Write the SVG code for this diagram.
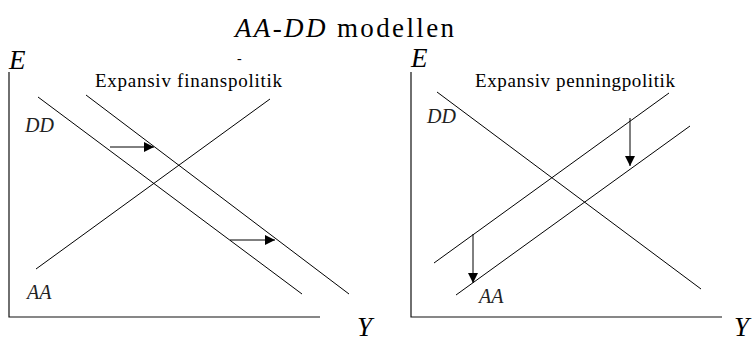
<svg xmlns="http://www.w3.org/2000/svg" width="755" height="342" viewBox="0 0 755 342">
<style>
.ln{stroke:#000;stroke-width:1;fill:none}
.ax{stroke:#111;stroke-width:1.2;fill:none}
.arr{stroke:#000;stroke-width:1;fill:none;marker-end:url(#ah)}
.t{font-family:"Liberation Serif","Times New Roman",serif;fill:#000}
.it{font-style:italic}
.big{font-size:27px}
.lab{font-size:20px;fill:#222}
.pol{font-size:19px}
</style>
<defs>
<marker id="ah" markerWidth="11" markerHeight="10" refX="10" refY="5" orient="auto" markerUnits="userSpaceOnUse">
<path d="M0,0 L10,5 L0,10 Z" fill="#000"/>
</marker>
</defs>
<rect width="755" height="342" fill="#fff"/>
<g id="title"><text class="t" x="235" y="37" font-size="27" textLength="219" lengthAdjust="spacing"><tspan class="it">AA-DD</tspan> modellen</text>
<text class="t" x="237" y="63" font-size="14">-</text></g>
<g id="left-axes">
<path class="ax" d="M9,72 V317 H320"/>
<text class="t it big" x="9" y="69">E</text>
<text class="t it big" x="357" y="336">Y</text>
</g>
<g id="left-title"><text class="t pol" x="95" y="87" textLength="187" lengthAdjust="spacing">Expansiv finanspolitik</text></g>
<g id="left-DD1"><line class="ln" x1="38" y1="97" x2="302" y2="294"/><text class="t it lab" x="25" y="132">DD</text></g>
<g id="left-DD2"><line class="ln" x1="86" y1="95" x2="349" y2="294"/></g>
<g id="left-AA"><line class="ln" x1="36" y1="269" x2="270" y2="99"/><text class="t it lab" x="27" y="299">AA</text></g>
<g id="right-axes">
<path class="ax" d="M411,72 V317 H722"/>
<text class="t it big" x="411" y="67">E</text>
<text class="t it big" x="734" y="336">Y</text>
</g>
<g id="right-title"><text class="t pol" x="475" y="87" textLength="200" lengthAdjust="spacing">Expansiv penningpolitik</text></g>
<g id="right-DD"><line class="ln" x1="437" y1="92" x2="701" y2="289"/><text class="t it lab" x="427" y="123">DD</text></g>
<g id="right-AA1"><line class="ln" x1="434" y1="263" x2="669" y2="93"/></g>
<g id="right-AA2"><line class="ln" x1="456" y1="295" x2="690" y2="126"/><text class="t it lab" x="479" y="303">AA</text></g>
<g id="connectors">
<line class="arr" x1="110" y1="147" x2="154" y2="147"/>
<line class="arr" x1="230" y1="240" x2="275" y2="240"/>
<line class="arr" x1="630" y1="118" x2="630" y2="166"/>
<line class="arr" x1="473" y1="234" x2="473" y2="283"/>
</g>
</svg>
